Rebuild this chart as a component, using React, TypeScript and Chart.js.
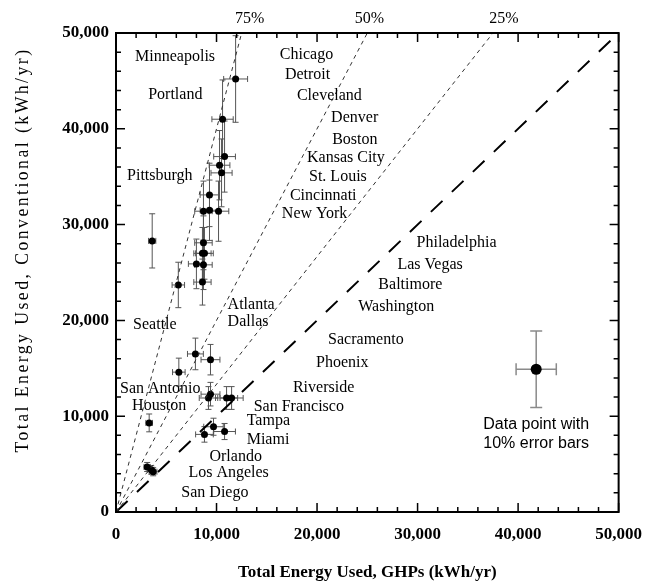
import React, { useEffect, useRef } from "react";
import { Chart, registerables } from "chart.js";

Chart.register(...registerables);

// ---- Data (kWh/yr) ----
const ghpValues = [
  11900, 10600, 10800, 10300, 10500, 9300, 8700, 9300, 10200, 3600, 8700, 8600, 8800, 8000, 8700, 8600, 6200,
  7900, 9400, 6250, 9400, 9200, 11000, 11500, 3300, 9700, 8800, 10800, 3100, 3500, 3700,
];
const convValues = [
  45200, 41000, 37100, 36200, 35400, 33100, 31400, 31500, 31400, 28300, 28100, 27000, 27000, 25900, 25800, 24000, 23700,
  16500, 15900, 14600, 12300, 11900, 11900, 11900, 9300, 8900, 8100, 8400, 4700, 4400, 4200,
];
const errorFraction = 0.1;

// City label anchors (data coordinates)
const cityNames = [
  "Minneapolis", "Chicago", "Detroit", "Portland", "Cleveland", "Denver", "Boston", "Kansas City", "St. Louis",
  "Pittsburgh", "Cincinnati", "New York", "Philadelphia", "Las Vegas", "Baltimore", "Washington", "Atlanta", "Dallas",
  "Seattle", "Sacramento", "Phoenix", "Riverside", "San Antonio", "Houston", "San Francisco", "Tampa", "Miami",
  "Orlando", "Los Angeles", "San Diego",
];
const labelX = [
  1900, 16300, 16800, 3200, 18000, 21400, 21500, 19000, 19200, 1100, 17300, 16500, 29900, 28000, 26100, 24100, 11100,
  11100, 1700, 21100, 19900, 17600, 400, 1600, 13700, 13000, 13000, 9300, 7200, 6500,
];
const labelY = [
  47500, 47700, 45600, 43600, 43400, 41200, 38900, 37000, 35000, 35100, 33000, 31100, 28100, 25800, 23700, 21400, 21600,
  19900, 19500, 18000, 15600, 13000, 12900, 11100, 11000, 9500, 7500, 5800, 4100, 2000,
];

// Reference lines: percent reduction in energy use
const reductionLevels = [75, 50, 25];
const reductionLabelX = [13300, 25200, 38600];

// Legend sample point
const legendPoint = { x: 41800, y: 14900 };
const legendErr = { x: 2000, y: 4000 };
const legendText = ["Data point with", "10% error bars"];

const xTitle = "Total Energy Used, GHPs (kWh/yr)";
const yTitle = "Total Energy Used, Conventional (kWh/yr)";

const axisMax = 50000;
const majorStep = 10000;
const minorStep = 2000;

const SERIF = '"Liberation Serif", "Times New Roman", serif';
const SANS = '"Liberation Sans", Arial, sans-serif';

function drawErrorBar(ctx: CanvasRenderingContext2D, px: number, py: number, ex0: number, ex1: number, ey0: number, ey1: number, cap: number) {
  ctx.beginPath();
  ctx.moveTo(ex0, py);
  ctx.lineTo(ex1, py);
  ctx.moveTo(ex0, py - cap);
  ctx.lineTo(ex0, py + cap);
  ctx.moveTo(ex1, py - cap);
  ctx.lineTo(ex1, py + cap);
  ctx.moveTo(px, ey0);
  ctx.lineTo(px, ey1);
  ctx.moveTo(px - cap, ey0);
  ctx.lineTo(px + cap, ey0);
  ctx.moveTo(px - cap, ey1);
  ctx.lineTo(px + cap, ey1);
  ctx.stroke();
}

const overlayPlugin = {
  id: "overlay",
  beforeDatasetsDraw(chart: any) {
    const { ctx } = chart;
    const xs = chart.scales.x;
    const ys = chart.scales.y;
    ctx.save();
    ctx.strokeStyle = "#555";
    ctx.lineWidth = 1;
    for (let i = 0; i < ghpValues.length; i++) {
      const gx = ghpValues[i];
      const cy = convValues[i];
      const px = xs.getPixelForValue(gx);
      const py = ys.getPixelForValue(cy);
      drawErrorBar(
        ctx, px, py,
        xs.getPixelForValue(gx * (1 - errorFraction)), xs.getPixelForValue(gx * (1 + errorFraction)),
        ys.getPixelForValue(cy * (1 + errorFraction)), ys.getPixelForValue(cy * (1 - errorFraction)),
        3
      );
    }
    // legend sample
    ctx.strokeStyle = "#8a8a8a";
    ctx.lineWidth = 1.5;
    const lx = xs.getPixelForValue(legendPoint.x);
    const ly = ys.getPixelForValue(legendPoint.y);
    drawErrorBar(
      ctx, lx, ly,
      xs.getPixelForValue(legendPoint.x - legendErr.x), xs.getPixelForValue(legendPoint.x + legendErr.x),
      ys.getPixelForValue(legendPoint.y + legendErr.y), ys.getPixelForValue(legendPoint.y - legendErr.y),
      6
    );
    ctx.restore();
  },
  afterDraw(chart: any) {
    const { ctx, chartArea } = chart;
    const xs = chart.scales.x;
    const ys = chart.scales.y;
    const { left, right, top, bottom } = chartArea;
    ctx.save();
    // frame
    ctx.strokeStyle = "#000";
    ctx.lineWidth = 2;
    ctx.strokeRect(left, top, right - left, bottom - top);
    // inward ticks on all sides
    ctx.lineWidth = 1.5;
    ctx.beginPath();
    for (let v = 0; v <= axisMax; v += minorStep) {
      const len = v % majorStep === 0 ? 9 : 5;
      const px = xs.getPixelForValue(v);
      ctx.moveTo(px, bottom);
      ctx.lineTo(px, bottom - len);
      ctx.moveTo(px, top);
      ctx.lineTo(px, top + len);
      const py = ys.getPixelForValue(v);
      ctx.moveTo(left, py);
      ctx.lineTo(left + len, py);
      ctx.moveTo(right, py);
      ctx.lineTo(right - len, py);
    }
    ctx.stroke();

    // city labels
    ctx.fillStyle = "#000";
    ctx.font = `16px ${SERIF}`;
    ctx.textAlign = "left";
    ctx.textBaseline = "middle";
    for (let i = 0; i < cityNames.length; i++) {
      ctx.fillText(cityNames[i], xs.getPixelForValue(labelX[i]), ys.getPixelForValue(labelY[i]));
    }
    // reduction labels above plot
    ctx.textAlign = "center";
    for (let i = 0; i < reductionLevels.length; i++) {
      ctx.fillText(`${reductionLevels[i]}%`, xs.getPixelForValue(reductionLabelX[i]), top - 14);
    }
    // legend text
    ctx.font = `16px ${SANS}`;
    const lx = xs.getPixelForValue(legendPoint.x);
    const ly = ys.getPixelForValue(legendPoint.y);
    legendText.forEach((t, i) => ctx.fillText(t, lx, ly + 55 + i * 19));

    // y-axis title (widely spaced, as in the reference)
    ctx.font = `18px ${SERIF}`;
    try {
      (ctx as any).letterSpacing = "2.5px";
    } catch (e) {}
    const w = ctx.measureText(yTitle).width;
    const targetLen = 405;
    ctx.translate(28, 250);
    ctx.rotate(-Math.PI / 2);
    ctx.scale(targetLen / w, 1);
    ctx.textAlign = "center";
    ctx.textBaseline = "alphabetic";
    ctx.fillText(yTitle, 0, 0);
    ctx.restore();
  },
};

export default function App() {
  const canvasRef = useRef<HTMLCanvasElement | null>(null);

  useEffect(() => {
    document.body.style.margin = "0";
    const canvas = canvasRef.current;
    if (!canvas) return;

    const refLineSets = reductionLevels.map((r) => ({
      type: "line" as const,
      label: `${r}%`,
      data: [
        { x: 0, y: 0 },
        { x: axisMax * (1 - r / 100), y: axisMax },
      ],
      borderColor: "#333",
      borderWidth: 1,
      borderDash: [4, 4],
      pointRadius: 0,
      fill: false,
    }));

    const chart = new Chart(canvas, {
      type: "scatter",
      data: {
        datasets: [
          ...refLineSets,
          {
            type: "line" as const,
            label: "1:1",
            data: [
              { x: 0, y: 0 },
              { x: axisMax, y: axisMax },
            ],
            borderColor: "#000",
            borderWidth: 2,
            borderDash: [16, 13],
            pointRadius: 0,
            fill: false,
          },
          {
            label: "Cities",
            data: ghpValues.map((x, i) => ({ x, y: convValues[i] })),
            pointRadius: 3.5,
            pointBackgroundColor: "#000",
            pointBorderColor: "#000",
            pointBorderWidth: 0,
          },
          {
            label: "Legend",
            data: [legendPoint],
            pointRadius: 5.5,
            pointBackgroundColor: "#000",
            pointBorderColor: "#000",
            pointBorderWidth: 0,
          },
        ] as any,
      },
      options: {
        animation: false,
        responsive: false,
        maintainAspectRatio: false,
        layout: { padding: { left: 0, right: 34, top: 33, bottom: 0 } },
        plugins: { legend: { display: false }, tooltip: { enabled: false } },
        scales: {
          x: {
            type: "linear",
            min: 0,
            max: axisMax,
            grid: { display: false, drawTicks: false },
            border: { display: false },
            ticks: {
              stepSize: majorStep,
              maxRotation: 0,
              autoSkip: false,
              padding: 12,
              color: "#000",
              font: { family: SERIF, size: 17, weight: "bold" },
              callback: (v: any) => Number(v).toLocaleString("en-US"),
            },
            title: {
              display: true,
              text: xTitle,
              color: "#000",
              font: { family: SERIF, size: 17, weight: "bold" },
              padding: { top: 0, bottom: 1 },
            },
            afterFit: (s: any) => {
              s.height = 72;
            },
          },
          y: {
            type: "linear",
            min: 0,
            max: axisMax,
            grid: { display: false, drawTicks: false },
            border: { display: false },
            ticks: {
              stepSize: majorStep,
              autoSkip: false,
              padding: 7,
              color: "#000",
              font: { family: SERIF, size: 17, weight: "bold" },
              callback: (v: any) => Number(v).toLocaleString("en-US"),
            },
            title: { display: false },
            afterFit: (s: any) => {
              s.width = 116;
            },
          },
        },
      } as any,
      plugins: [overlayPlugin],
    });

    return () => chart.destroy();
  }, []);

  return (
    <div style={{ width: 654, height: 584, background: "#fff" }}>
      <canvas ref={canvasRef} width={654} height={584} style={{ display: "block" }} />
    </div>
  );
}
